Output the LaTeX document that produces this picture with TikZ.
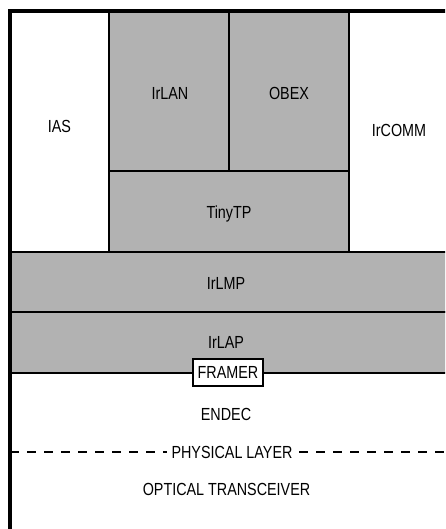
\documentclass[tikz,border=0pt]{standalone}
\usepackage{fontspec}
\setmainfont{Liberation Sans}[FakeStretch=0.82]
\begin{document}
\begin{tikzpicture}[x=1pt,y=-1pt,
  layer/.style={draw, line width=2pt, fill=black!30},
  lbl/.style={font=\fontsize{17.5}{19}\selectfont, inner sep=0pt, text height=12.5pt, text depth=0pt},
  framerbox/.style={lbl, draw, line width=2pt, fill=white, minimum width=70pt, minimum height=27pt},
  phys/.style={lbl, fill=white, inner xsep=5pt, inner ysep=2pt}]
\useasboundingbox (0,0) rectangle (445,529);
\clip (0,0) rectangle (445,529);
\fill[white] (0,0) rectangle (445,529);
% stacked layers
\draw[layer] (109,11) rectangle (229,171);
\draw[layer] (229,11) rectangle (349,171);
\draw[layer] (109,171) rectangle (349,252);
\draw[line width=2pt] (349,11) -- (349,252);
\draw[layer] (10,252) rectangle (452,312);
\draw[layer] (10,312) rectangle (452,373);
% physical layer separator
\coordinate (dl) at (10,452);
\coordinate (dr) at (452,452);
\draw[line width=1.6pt, dash pattern=on 9pt off 8pt] (dl) -- (dr);
% outer frame
\draw[line width=4pt] (10,540) -- (10,11) -- (455,11);
% labels
\node[lbl] (ias) at (59.5,126) {IAS};
\node[lbl] (irlan) at (170,93) {IrLAN};
\node[lbl] (obex) at (289,93) {OBEX};
\node[lbl] (ircomm) at (399,130) {IrCOMM};
\node[lbl] (tinytp) at (229,212) {TinyTP};
\node[lbl] (irlmp) at (226,283) {IrLMP};
\node[lbl] (irlap) at (226,342) {IrLAP};
\node[framerbox] (framer) at (228,372.5) {FRAMER};
\node[lbl] (endec) at (226,414) {ENDEC};
\node[phys] (physical) at (232,452) {PHYSICAL LAYER};
\node[lbl] (optical) at (226.5,489) {OPTICAL TRANSCEIVER};
\end{tikzpicture}
\end{document}
